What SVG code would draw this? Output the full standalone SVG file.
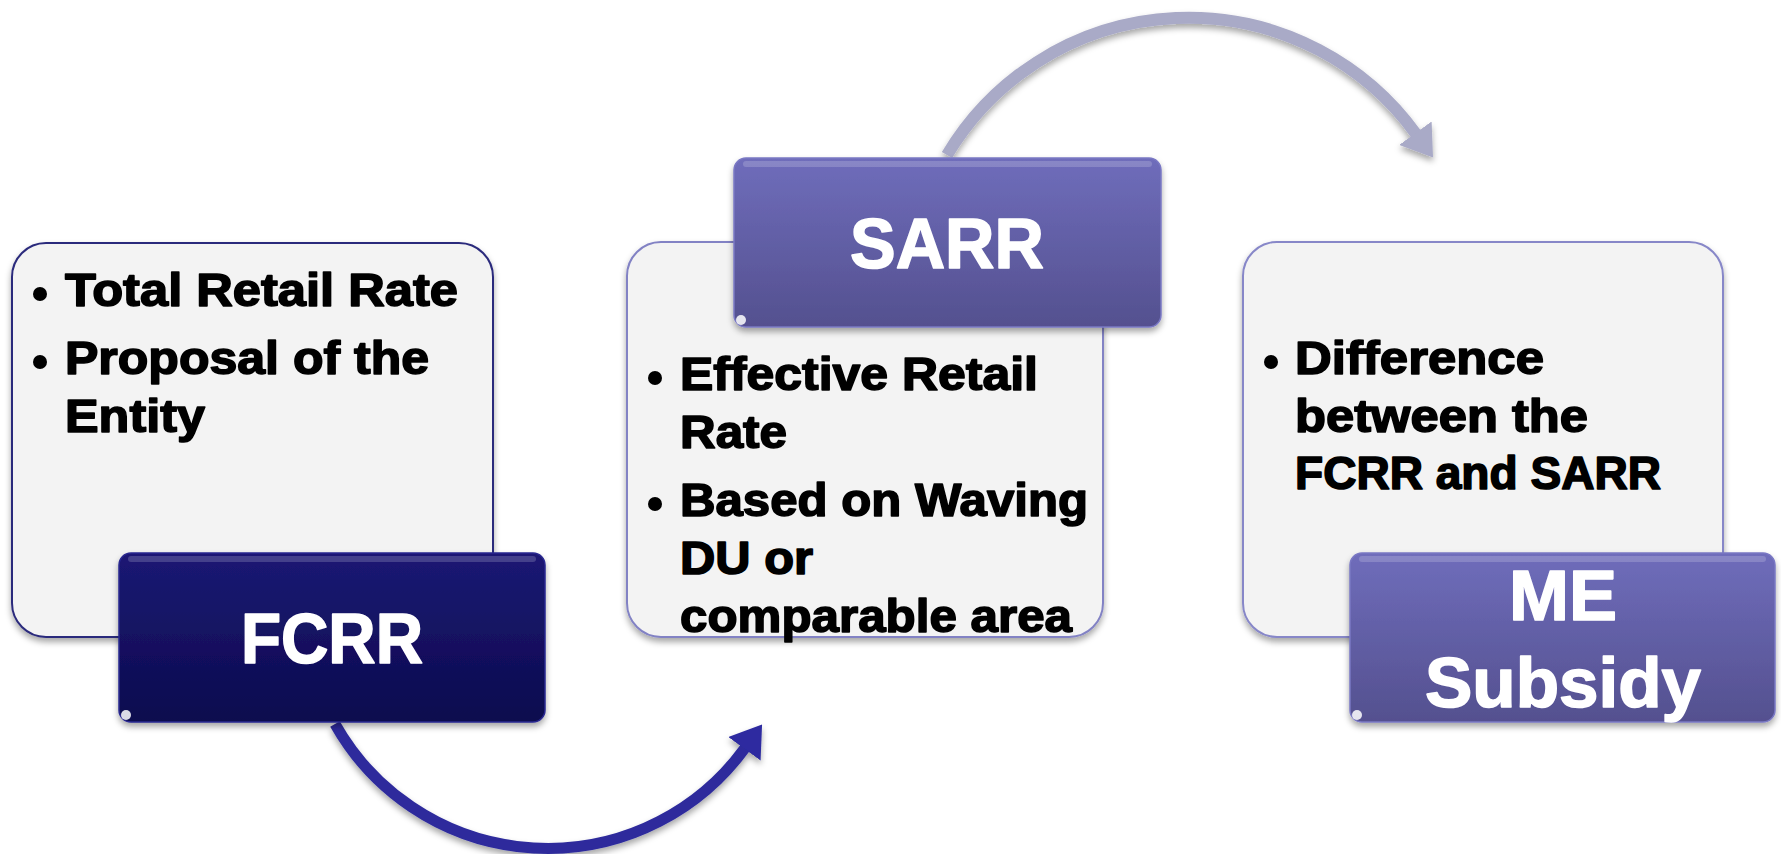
<svg xmlns="http://www.w3.org/2000/svg" width="1781" height="854" viewBox="0 0 1781 854">
<defs>
  <linearGradient id="gDark" x1="0" y1="0" x2="0" y2="1">
    <stop offset="0" stop-color="#1b1974"/>
    <stop offset="1" stop-color="#0c0a4e"/>
  </linearGradient>
  <linearGradient id="gLight" x1="0" y1="0" x2="0" y2="1">
    <stop offset="0" stop-color="#6f6dbb"/>
    <stop offset="1" stop-color="#54508f"/>
  </linearGradient>
  <filter id="shadow" x="-10%" y="-10%" width="120%" height="130%">
    <feDropShadow dx="0" dy="4" stdDeviation="3" flood-color="#000" flood-opacity="0.35"/>
  </filter>
  <marker id="headBlue" markerUnits="userSpaceOnUse" viewBox="0 0 30 40" refX="1" refY="20" markerWidth="30" markerHeight="40" orient="auto">
    <path d="M0 0 L30 20 L0 40 Z" fill="#2d2ba0"/>
  </marker>
  <marker id="headGray" markerUnits="userSpaceOnUse" viewBox="0 0 30 40" refX="1" refY="20" markerWidth="30" markerHeight="40" orient="auto">
    <path d="M0 0 L30 20 L0 40 Z" fill="#a9aac7"/>
  </marker>
</defs>
<style>
  .box { fill:#f3f3f3; stroke-width:2; filter:url(#shadow); }
  .head { stroke-width:1.5; filter:url(#shadow); }
  .hl { fill:#ffffff; opacity:0.18; }
  .dot { fill:#ffffff; opacity:0.85; }
  .body { font-family:"Liberation Sans", Arial, sans-serif; font-weight:bold; font-size:47px; fill:#000; stroke:#000; stroke-width:1.6; stroke-linejoin:round; }
  .title { font-family:"Liberation Sans", Arial, sans-serif; font-weight:bold; font-size:70px; fill:#fff; stroke:#fff; stroke-width:1.6; stroke-linejoin:round; text-anchor:middle; }
  .bullet { fill:#000; }
  .conn { fill:none; filter:url(#shadow); }
</style>
<rect width="1781" height="854" fill="#ffffff"/>

<g id="connectors">
  <path class="conn" d="M 335 724 A 244 244 0 0 0 745 748" stroke="#2d2b9c" stroke-width="11" marker-end="url(#headBlue)"/>
  <path class="conn" d="M 947 155 A 281 281 0 0 1 1416 134" stroke="#a9aac7" stroke-width="12" marker-end="url(#headGray)"/>
</g>

<g id="fcrr-details">
  <rect class="box" x="12" y="243" width="481" height="394" rx="34" stroke="#2b2a7c"/>
  <circle class="bullet" cx="40" cy="294" r="7"/>
  <text class="body" x="65" y="306" textLength="393" lengthAdjust="spacingAndGlyphs">Total Retail Rate</text>
  <circle class="bullet" cx="40" cy="362" r="7"/>
  <text class="body" x="65" y="374" textLength="364" lengthAdjust="spacingAndGlyphs">Proposal of the</text>
  <text class="body" x="65" y="432" textLength="140" lengthAdjust="spacingAndGlyphs">Entity</text>
</g>
<g id="fcrr">
  <rect class="head" x="119" y="553" width="426" height="169" rx="12" fill="url(#gDark)" stroke="#2a2890"/>
  <rect class="hl" x="128" y="556" width="408" height="6" rx="3"/>
  <circle class="dot" cx="126" cy="715" r="5"/>
  <text class="title" x="332" y="663" textLength="182" lengthAdjust="spacingAndGlyphs">FCRR</text>
</g>

<g id="sarr-details">
  <rect class="box" x="627" y="242" width="476" height="395" rx="34" stroke="#8282c4"/>
  <circle class="bullet" cx="655" cy="378" r="7"/>
  <text class="body" x="680" y="390" textLength="358" lengthAdjust="spacingAndGlyphs">Effective Retail</text>
  <text class="body" x="680" y="448" textLength="107" lengthAdjust="spacingAndGlyphs">Rate</text>
  <circle class="bullet" cx="655" cy="504" r="7"/>
  <text class="body" x="680" y="516" textLength="408" lengthAdjust="spacingAndGlyphs">Based on Waving</text>
  <text class="body" x="680" y="574" textLength="133" lengthAdjust="spacingAndGlyphs">DU or</text>
  <text class="body" x="680" y="632" textLength="392" lengthAdjust="spacingAndGlyphs">comparable area</text>
</g>
<g id="sarr">
  <rect class="head" x="734" y="158" width="427" height="169" rx="12" fill="url(#gLight)" stroke="#7a78c4"/>
  <rect class="hl" x="743" y="161" width="409" height="6" rx="3"/>
  <circle class="dot" cx="741" cy="320" r="5"/>
  <text class="title" x="947" y="268" textLength="194" lengthAdjust="spacingAndGlyphs">SARR</text>
</g>

<g id="me-subsidy-details">
  <rect class="box" x="1243" y="242" width="480" height="395" rx="34" stroke="#8787c8"/>
  <circle class="bullet" cx="1271" cy="362" r="7"/>
  <text class="body" x="1295" y="374" textLength="249" lengthAdjust="spacingAndGlyphs">Difference</text>
  <text class="body" x="1295" y="432" textLength="293" lengthAdjust="spacingAndGlyphs">between the</text>
  <text class="body" x="1295" y="489" textLength="366" lengthAdjust="spacingAndGlyphs">FCRR and SARR</text>
</g>
<g id="me-subsidy">
  <rect class="head" x="1350" y="553" width="425" height="169" rx="12" fill="url(#gLight)" stroke="#7a78c4"/>
  <rect class="hl" x="1359" y="556" width="407" height="6" rx="3"/>
  <circle class="dot" cx="1357" cy="715" r="5"/>
  <text class="title" x="1563" y="620" textLength="108" lengthAdjust="spacingAndGlyphs">ME</text>
  <text class="title" x="1563" y="707" textLength="276" lengthAdjust="spacingAndGlyphs">Subsidy</text>
</g>
</svg>
